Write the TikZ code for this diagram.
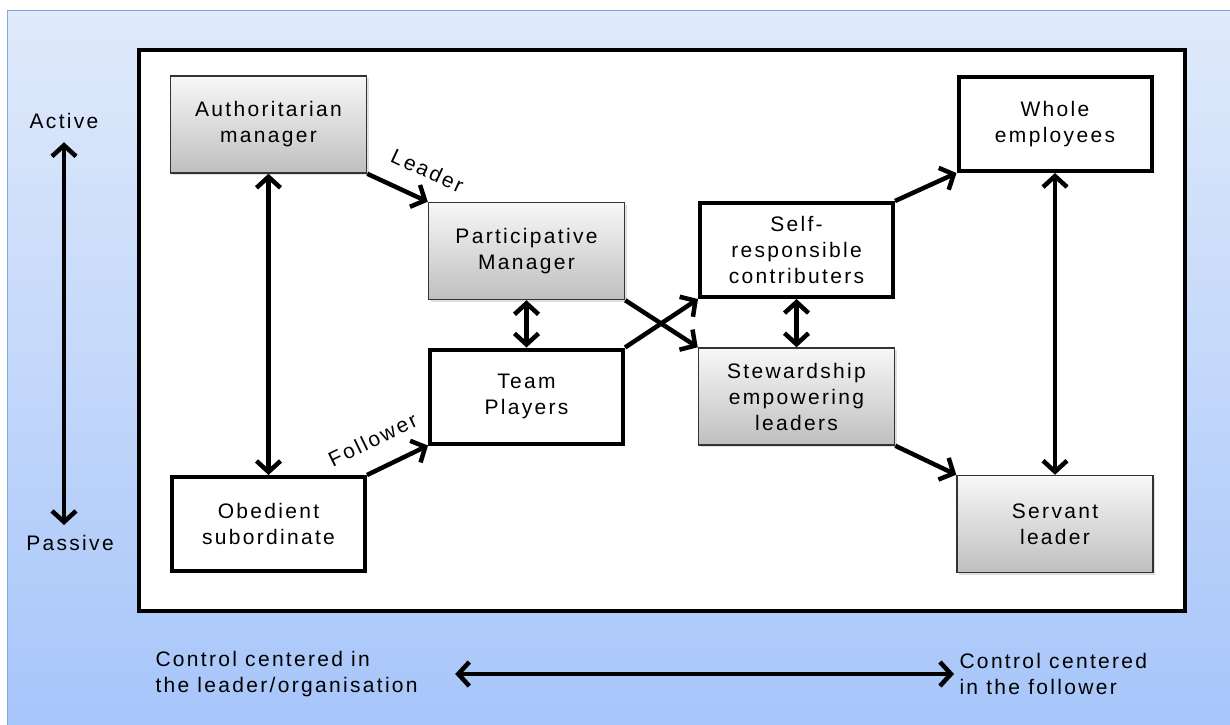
\documentclass[tikz,border=0pt]{standalone}
\usepackage{fontspec}
\setmainfont{Liberation Sans}[LetterSpace=11]
\usetikzlibrary{arrows.meta,shadows}

\definecolor{bgtop}{HTML}{E0EAFA}
\definecolor{bgbot}{HTML}{A6C5FA}
\definecolor{bgline}{HTML}{7FA7E3}

\begin{document}
\begin{tikzpicture}[x=1pt,y=-1pt,
  >={Straight Barb[length=11pt,width=24pt]},
  every node/.style={font=\fontsize{21}{26}\selectfont, align=center},
  plain/.style={draw, line width=4pt, fill=white, minimum width=193pt, minimum height=94pt},
  grey/.style={draw=black!80, line width=1.5pt, top color=gray!6, bottom color=gray!50,
    minimum width=196pt, minimum height=97pt,
    drop shadow={opacity=.25,shadow xshift=2pt,shadow yshift=-2pt}},
  link/.style={line width=4.5pt}]
\useasboundingbox (0,0) rectangle (1230,724);
\fill[white] (0,0) rectangle (1230,724);
\draw[bgline, top color=bgtop, bottom color=bgbot] (7,10) rectangle (1240,734);
\draw[line width=4pt, fill=white] (139,50) rectangle (1185,611);

\node[grey] (am) at (268.5,124.5) {Authoritarian\\manager};
\node[grey] (pm) at (526.5,251) {Participative\\Manager};
\node[plain] (tp) at (526.5,396.5) {Team\\Players};
\node[plain] (os) at (268.5,524) {Obedient\\subordinate};
\node[plain] (sr) at (796.5,250) {Self-\\responsible\\contributers};
\node[grey] (se) at (796.5,396.5) {Stewardship\\empowering\\leaders};
\node[plain] (we) at (1055,124) {Whole\\employees};
\node[grey] (sl) at (1055,524) {Servant\\leader};

\draw[<->,link] (am) -- (os);
\draw[->,link] (am.south east) -- node[sloped,above=15pt,pos=.8] {Leader} (pm.north west);
\draw[->,link] (os.north east) -- node[sloped,above=16pt,pos=.3] {Follower} (tp.south west);
\draw[<->,link] (pm) -- (tp);
\draw[->,link] (pm.south east) -- (se.north west);
\draw[->,link] (tp.north east) -- (sr.south west);
\draw[<->,link] (sr) -- (se);
\draw[->,link] (sr.north east) -- (we.south west);
\draw[->,link] (se.south east) -- (sl.north west);
\draw[<->,link] (we) -- (sl);

\node (act) at (64,121) {Active};
\node (pas) at (70,543) {Passive};
\draw[<->,link,shorten <=10pt,shorten >=18pt] (act) -- (act |- pas);

\node[align=left, anchor=west] (lo) at (152,674) {Control centered in\\the leader/organisation};
\node[align=left, anchor=west] (fo) at (956,674) {Control centered\\in the follower};
\draw[<->,link,shorten <=34pt,shorten >=2pt] (lo) -- (fo);
\end{tikzpicture}
\end{document}
